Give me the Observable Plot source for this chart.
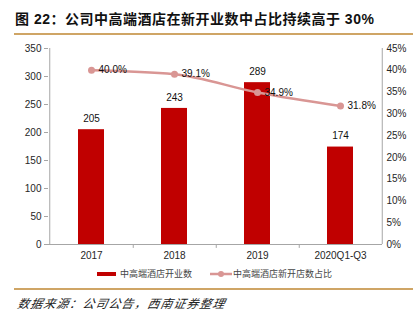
<!DOCTYPE html>
<html>
<head>
<meta charset="utf-8">
<script src="https://cdn.jsdelivr.net/npm/d3@7"></script>
<script src="https://cdn.jsdelivr.net/npm/@observablehq/plot@0.6"></script>
<style>
  body { margin: 0; background: #fff; }
  #wrap { position: relative; width: 420px; height: 321px; overflow: hidden; background: #fff;
    font-family: "Liberation Sans", Arial, "Noto Sans CJK SC", sans-serif; }
  #title { position: absolute; left: 15px; top: 8px; font-size: 14px; font-weight: bold; color: #111;
    letter-spacing: 0.5px; white-space: nowrap; font-family: "Liberation Sans", Arial, "Noto Sans CJK SC", sans-serif; }
  .rule { position: absolute; left: 14px; width: 399px; background: #cfa565; }
  #chart { position: absolute; left: 0; top: 37px; }
  #legend { position: absolute; top: 267px; left: 0; width: 420px; height: 14px; font-size: 9px; color: #444;
    font-family: "Noto Sans CJK SC", sans-serif; }
  .lg { position: absolute; top: 0; white-space: nowrap; line-height: 14px; }
  #source { position: absolute; left: 16px; top: 294px; font-size: 12px; font-style: italic; color: #222;
    letter-spacing: 1px; font-family: "Noto Sans CJK SC", sans-serif; white-space: nowrap; transform: skewX(-12deg); transform-origin: left bottom; }
</style>
</head>
<body>
<div id="wrap">
  <div id="title">图 22：公司中高端酒店在新开业数中占比持续高于 30%</div>
  <div class="rule" style="top:33px;height:2px;"></div>
  <div id="chart"></div>
  <div id="legend"></div>
  <div class="rule" style="top:288px;height:1.5px;"></div>
  <div id="source">数据来源：公司公告，西南证券整理</div>
</div>
<script>
const categories = ["2017", "2018", "2019", "2020Q1-Q3"];
const openings = [205, 243, 289, 174];
const shares = [40.0, 39.1, 34.9, 31.8];
const leftTicks = [0, 50, 100, 150, 200, 250, 300, 350];
const rightTicks = [0, 5, 10, 15, 20, 25, 30, 35, 40, 45];
const seriesNames = ["中高端酒店开业数", "中高端酒店新开店数占比"];

const barColor = "#c00000";
const lineColor = "#d99694";
const axisColor = "#a6a6a6";
const yMax = 350, pMax = 45;
const toLeft = p => p * yMax / pMax;

const data = categories.map((c, i) => ({cat: c, n: openings[i], p: shares[i]}));

const W = 420, H = 225, mL = 48, mR = 38, mT = 11, mB = 18;
const step = (W - mL - mR) / categories.length;

const plot = Plot.plot({
  width: W, height: H,
  marginLeft: mL, marginRight: mR, marginTop: mT, marginBottom: mB,
  style: {fontFamily: '"Liberation Sans", Arial, sans-serif', fontSize: "10px", color: "#262626", background: "transparent"},
  x: {type: "band", domain: categories, paddingInner: 0.69, paddingOuter: 0.345},
  y: {domain: [0, yMax]},
  marks: [
    Plot.barY(data, {x: "cat", y: "n", fill: barColor}),
    Plot.ruleY([0], {stroke: axisColor}),
    Plot.ruleX([categories[0]], {dx: -step / 2, y1: 0, y2: yMax, stroke: axisColor}),
    Plot.ruleX([categories[categories.length - 1]], {dx: step / 2, y1: 0, y2: yMax, stroke: axisColor}),
    Plot.ruleX(categories.slice(0, -1), {dx: step / 2, y1: 0, y2: -7, stroke: axisColor}),
    Plot.axisY({anchor: "left", ticks: leftTicks, tickSize: 4, tickPadding: 3, stroke: axisColor, label: null, fill: "#262626"}),
    Plot.axisY({anchor: "right", ticks: rightTicks.map(toLeft), tickFormat: d => Math.round(d * pMax / yMax) + "%",
      tickSize: 0, tickPadding: 4, label: null, fill: "#262626"}),
    Plot.axisX({anchor: "bottom", tickSize: 0, tickPadding: 7, label: null, fill: "#262626"}),
    Plot.text(data, {x: "cat", y: "n", text: d => String(d.n), dy: -11, fill: "#111", fontSize: 10}),
    Plot.line(data, {x: "cat", y: d => toLeft(d.p), stroke: lineColor, strokeWidth: 2.5, curve: "monotone-x"}),
    Plot.dot(data, {x: "cat", y: d => toLeft(d.p), r: 3.5, fill: lineColor, stroke: "none"}),
    Plot.text(data, {x: "cat", y: d => toLeft(d.p), text: d => d.p.toFixed(1) + "%", dx: 7, textAnchor: "start", fill: "#111", fontSize: 10})
  ]
});
document.getElementById("chart").appendChild(plot);

// legend
const legend = document.getElementById("legend");
legend.innerHTML =
  `<div class="lg" style="left:97px;"><span style="display:inline-block;width:19px;height:4px;background:${barColor};vertical-align:middle;margin-right:4px;position:relative;top:-1px;"></span>${seriesNames[0]}</div>` +
  `<div class="lg" style="left:210px;"><svg width="22" height="8" style="vertical-align:middle;margin-right:1px;position:relative;top:-1px;"><line x1="0" x2="22" y1="4" y2="4" stroke="${lineColor}" stroke-width="2.5"/><circle cx="11" cy="4" r="3" fill="${lineColor}"/></svg>${seriesNames[1]}</div>`;
</script>
</body>
</html>
